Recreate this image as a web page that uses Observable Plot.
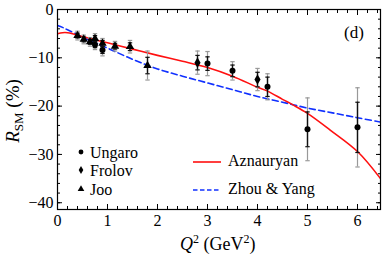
<!DOCTYPE html>
<html><head><meta charset="utf-8">
<script src="https://cdn.jsdelivr.net/npm/d3@7"></script>
<script src="https://cdn.jsdelivr.net/npm/@observablehq/plot@0.6"></script>
<style>
body{margin:0;background:#fff}
#wrap{position:relative;width:382px;height:258px;font-family:"Liberation Serif","Times New Roman",serif;color:#000}
.lab{position:absolute;font-size:16px;white-space:nowrap;line-height:1}
.lab svg{position:absolute}
</style></head><body><div id="wrap"></div>
<script>
// ---- data ----
const ungaroQ2   = [0.75, 0.9, 3.0, 3.5, 4.2, 5.0, 6.0];
const ungaroR    = [-7.3, -8.4, -11.2, -12.7, -16.0, -24.8, -24.4];
const ungaroStat = [0.6, 0.7, 1.4, 1.2, 2.0, 3.6, 5.2];
const ungaroTot  = [1.0, 1.2, 2.5, 1.9, 2.7, 6.5, 8.2];

const frolovQ2   = [2.8, 4.0];
const frolovR    = [-11.0, -14.5];
const frolovStat = [1.5, 1.5];
const frolovTot  = [2.4, 2.3];

const jooQ2   = [0.4, 0.525, 0.65, 0.75, 0.9, 1.15, 1.45, 1.8];
const jooR    = [-5.4, -6.2, -6.7, -6.0, -7.0, -7.6, -7.7, -11.6];
const jooStat = [0.5, 0.5, 0.5, 0.6, 0.6, 0.6, 0.8, 1.7];
const jooTot  = [0.9, 0.9, 0.9, 1.0, 1.0, 1.0, 1.3, 3.0];

const aznQ2 = [0, 0.1, 0.2, 0.3, 0.5, 1.0, 1.5, 2.0, 2.5, 3.0, 3.5, 4.0, 4.2, 4.5, 4.72, 5.0, 5.46, 6.0, 6.46];
const aznR  = [-5.0, -4.8, -4.8, -5.0, -5.6, -6.9, -8.2, -9.5, -10.7, -12.0, -13.8, -16.1, -16.9, -18.6, -19.8, -21.5, -25.0, -29.4, -35.0];

const zyQ2 = [0, 0.1, 0.2, 0.4, 0.6, 0.8, 1.0, 1.5, 2.0, 2.5, 3.0, 3.5, 4.0, 4.5, 5.0, 5.5, 6.0, 6.46];
const zyR  = [-3.3, -3.7, -4.2, -5.2, -6.2, -7.1, -8.0, -10.3, -12.3, -13.8, -15.2, -16.6, -18.0, -19.2, -20.4, -21.4, -22.4, -23.3];

const xMajor = [0, 1, 2, 3, 4, 5, 6];
const yMajor = [0, -10, -20, -30, -40];

// ---- build tables ----
const mk = (set, q, r, s, t) => q.map((v, i) => ({set, q2: v, r: r[i], stat: s[i], tot: t[i]}));
const points = [
  ...mk("Ungaro", ungaroQ2, ungaroR, ungaroStat, ungaroTot),
  ...mk("Frolov", frolovQ2, frolovR, frolovStat, frolovTot),
  ...mk("Joo", jooQ2, jooR, jooStat, jooTot)
];
const azn = aznQ2.map((q, i) => ({q2: q, r: aznR[i]}));
const zy = zyQ2.map((q, i) => ({q2: q, r: zyR[i]}));
const xMinor = d3.range(0, 6.47, 0.2).map(v => +v.toFixed(2));
const yMinor = d3.range(-40, 0.1, 2);

const capSym = {draw(ctx, size) { const w = 2.2; ctx.moveTo(-w, 0); ctx.lineTo(w, 0); }};
const symOf = {Ungaro: "circle", Frolov: "diamond", Joo: "triangle"};
const rOf = {Ungaro: 2.8, Frolov: 3.2, Joo: 3.0};

const caps = [];
const capsB = [];
for (const p of points) {
  caps.push({q2: p.q2, y: p.r + p.tot}, {q2: p.q2, y: p.r - p.tot});
  capsB.push({q2: p.q2, y: p.r + p.stat}, {q2: p.q2, y: p.r - p.stat});
}

const blank = () => "";
const chart = Plot.plot({
  width: 382, height: 258,
  marginLeft: 57, marginRight: 2, marginTop: 9, marginBottom: 49,
  x: {domain: [0, 6.46]},
  y: {domain: [-41.4, 0]},
  style: {fontFamily: "'Liberation Serif', 'Times New Roman', serif", fontSize: "16px", background: "white", color: "black"},
  marks: [
    Plot.line(zy, {x: "q2", y: "r", stroke: "#1030ff", strokeWidth: 1.6, strokeDasharray: "6,3.5", curve: "catmull-rom", clip: true}),
    Plot.line(azn, {x: "q2", y: "r", stroke: "#ff1010", strokeWidth: 1.6, curve: "catmull-rom", clip: true}),
    Plot.ruleX(points, {x: "q2", y1: d => d.r - d.tot, y2: d => d.r + d.tot, stroke: "#999", strokeWidth: 1.2}),
    Plot.dot(caps, {x: "q2", y: "y", symbol: capSym, stroke: "#999", strokeWidth: 1.2, r: 2}),
    Plot.ruleX(points, {x: "q2", y1: d => d.r - d.stat, y2: d => d.r + d.stat, stroke: "#111", strokeWidth: 1.4}),
    Plot.dot(capsB, {x: "q2", y: "y", symbol: capSym, stroke: "#111", strokeWidth: 1.2, r: 2}),
    Plot.dot(points, {x: "q2", y: "r", symbol: d => symOf[d.set], r: d => rOf[d.set], fill: "black", stroke: "none"}),
    Plot.frame({stroke: "black", strokeWidth: 1.2}),
    // minor ticks (inward)
    Plot.axisX(xMinor, {anchor: "bottom", tickSize: -3, tickFormat: blank, label: null}),
    Plot.axisX(xMinor, {anchor: "top", tickSize: -3, tickFormat: blank, label: null}),
    Plot.axisY(yMinor, {anchor: "left", tickSize: -3, tickFormat: blank, label: null}),
    Plot.axisY(yMinor, {anchor: "right", tickSize: -3, tickFormat: blank, label: null}),
    // major ticks (inward)
    Plot.axisX(xMajor, {anchor: "bottom", tickSize: -5, tickFormat: blank, label: null}),
    Plot.axisX(xMajor, {anchor: "top", tickSize: -5, tickFormat: blank, label: null}),
    Plot.axisY(yMajor, {anchor: "left", tickSize: -5, tickFormat: blank, label: null}),
    Plot.axisY(yMajor, {anchor: "right", tickSize: -5, tickFormat: blank, label: null}),
    // labels
    Plot.axisX(xMajor, {anchor: "bottom", tickSize: 0, tickPadding: 5, label: null, fontSize: 16}),
    Plot.axisY(yMajor, {anchor: "left", tickSize: 0, tickPadding: 4, label: null, fontSize: 16})
  ]
});
const wrap = document.getElementById("wrap");
wrap.appendChild(chart);

function add(html, left, top, extra = "") {
  const d = document.createElement("div");
  d.className = "lab";
  d.style.left = left + "px"; d.style.top = top + "px";
  d.style.cssText += extra;
  d.innerHTML = html;
  wrap.appendChild(d);
  return d;
}
// axis titles
add('<i>Q</i><sup style="font-size:12px;vertical-align:7px">2</sup> (GeV<sup style="font-size:12px;vertical-align:7px">2</sup>)', 180, 233, "font-size:18px;");
add('<i>R</i><sub style="font-size:13px;vertical-align:-4px">SM</sub> (%)', 14, 111, "font-size:19px;transform:translate(-50%,-50%) rotate(-90deg);");
add('(d)', 344, 24, "font-size:17px;");
// legend
const legRows = [
  {name: "Ungaro", sym: "circle", y: 153},
  {name: "Frolov", sym: "diamond", y: 171},
  {name: "Joo", sym: "triangle", y: 190}
];
for (const r of legRows) {
  const s = d3.symbol(d3["symbol" + r.sym[0].toUpperCase() + r.sym.slice(1)], Math.PI * 6)();
  add(`<svg width="10" height="10" style="left:-14px;top:-5px;overflow:visible"><path transform="translate(5,12)" d="${s}" fill="black"/></svg>${r.name}`, 90, r.y - 8);
}
add('<svg width="30" height="4" style="left:-35px;top:7px"><line x1="0" x2="28" y1="2" y2="2" stroke="#ff1010" stroke-width="1.6"/></svg>Aznauryan', 228, 153);
add('<svg width="30" height="4" style="left:-35px;top:7px"><line x1="0" x2="28" y1="2" y2="2" stroke="#1030ff" stroke-width="1.6" stroke-dasharray="4.5,2.5"/></svg>Zhou &amp; Yang', 228, 181);
</script></body></html>
